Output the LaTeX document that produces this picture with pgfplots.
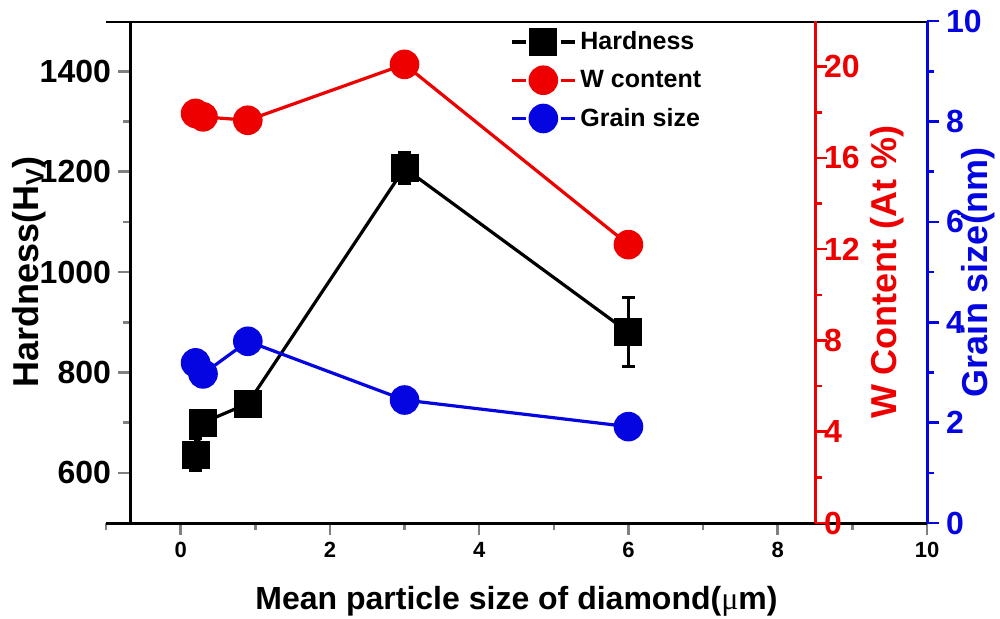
\documentclass[border=0pt]{standalone}
\usepackage{pgfplots}
\pgfplotsset{compat=1.18}
\usepackage{fontspec}
\setmainfont{Liberation Sans}
\newfontfamily\mufont{Liberation Serif}

\definecolor{wred}{RGB}{238,0,0}
\definecolor{gblue}{RGB}{5,5,225}

% hardness (HV) with error bars
\pgfplotstableread{
x    y     e
0.2  636   32
0.3  700   22
0.9  738   10
3.0  1207  31
6.0  880   69
}\hardness

% W content (at.%)
\pgfplotstableread{
x    y
0.2  17.95
0.3  17.8
0.9  17.65
3.0  20.1
6.0  12.2
}\wcontent

% grain size (nm)
\pgfplotstableread{
x    y
0.2  3.19
0.3  2.97
0.9  3.62
3.0  2.45
6.0  1.92
}\grainsize

\pgfplotsset{
  common/.style={
    scale only axis, height=251pt,
    at={(0,0)}, anchor=south west,
    /pgf/number format/assume math mode=true,
    /pgf/number format/1000 sep={},
    tick align=outside,
    major tick length=6pt, minor tick length=3.5pt,
    every tick/.append style={line width=1.3pt},
    axis line style={line width=1.5pt},
    yticklabel style={font=\bfseries\fontsize{16}{16}\selectfont},
  },
  lgimg/.style={legend image code/.code={
      \draw[##1, mark=none] (0pt,0pt) -- (7pt,0pt);
      \draw[##1, mark=none] (24.5pt,0pt) -- (31.5pt,0pt);
      \draw[##1, only marks] plot coordinates {(15.75pt,0pt)};
  }},
}

\begin{document}
\begin{tikzpicture}
% hardness axis (left)
\begin{axis}[common, width=410.5pt,
  xmin=-1, xmax=10, ymin=500, ymax=1500,
  axis x line*=bottom, axis y line*=left,
  axis y line shift=-12pt,
  xtick={0,2,...,10}, minor xtick={-1,1,...,9},
  ytick={600,800,...,1400}, minor ytick={700,900,...,1300},
  xticklabel style={font=\bfseries\fontsize{11}{11}\selectfont},
  xlabel={Mean particle size of diamond({\mufont\mdseries μ}m)},
  every axis x label/.style={at={(axis description cs:0.5,-0.157)}, anchor=center,
    font=\bfseries\fontsize{16}{16}\selectfont},
  ylabel={Hardness(H\textsubscript{V})},
  every axis y label/.style={at={(axis description cs:-0.094,0.5)}, anchor=center, rotate=90,
    font=\bfseries\fontsize{18}{18}\selectfont},
  legend style={at={(axis description cs:0.487,0.996)}, anchor=north west,
    draw=none, fill=none, font=\bfseries\fontsize{12.5}{12.5}\selectfont,
    row sep=4.8pt, inner sep=2pt},
  legend cell align=left, lgimg,
]
\draw[line width=1.5pt] (rel axis cs:0,1) -- (rel axis cs:1,1);
\addplot[black, line width=1.6pt, mark=square*, mark size=6.2pt,
  error bars/.cd, y dir=both, y explicit,
  error bar style={line width=1.4pt},
  error mark options={rotate=90, mark size=3.3pt, line width=1.4pt}]
  table[x=x, y=y, y error=e] {\hardness};
\addlegendentry{Hardness}
\addlegendimage{wred, line width=1.6pt, mark=*, mark size=6.6pt}
\addlegendentry{W content}
\addlegendimage{gblue, line width=1.6pt, mark=*, mark size=6.6pt}
\addlegendentry{Grain size}
\end{axis}

% W content axis (inner red axis at x = 8.5)
\begin{axis}[common, width=354.5pt,
  xmin=-1, xmax=8.5, ymin=0, ymax=22,
  axis x line=none, axis y line*=right,
  ytick={0,4,...,20}, minor ytick={2,6,...,18},
  y axis line style={wred},
  ytick style={wred},
  yticklabel style={wred, xshift=-5pt},
  ylabel={W Content (At \%)},
  every axis y label/.style={at={(axis description cs:1.102,0.5)}, anchor=center, rotate=90,
    color=wred, font=\bfseries\fontsize{18}{18}\selectfont},
]
\addplot[wred, line width=1.6pt, mark=*, mark size=6.6pt] table[x=x, y=y] {\wcontent};
\end{axis}

% grain size axis (right)
\begin{axis}[common, width=410.5pt,
  xmin=-1, xmax=10, ymin=0, ymax=10,
  axis x line=none, axis y line*=right,
  ytick={0,2,...,10}, minor ytick={1,3,...,9},
  y axis line style={gblue},
  ytick style={gblue},
  yticklabel style={gblue},
  ylabel={Grain size(nm)},
  every axis y label/.style={at={(axis description cs:1.0625,0.5)}, anchor=center, rotate=90,
    color=gblue, font=\bfseries\fontsize{18}{18}\selectfont},
]
\addplot[gblue, line width=1.6pt, mark=*, mark size=6.6pt] table[x=x, y=y] {\grainsize};
\end{axis}

\pgfresetboundingbox
\useasboundingbox (-53pt,-47.5pt) rectangle (447pt,261.5pt);
\end{tikzpicture}
\end{document}
